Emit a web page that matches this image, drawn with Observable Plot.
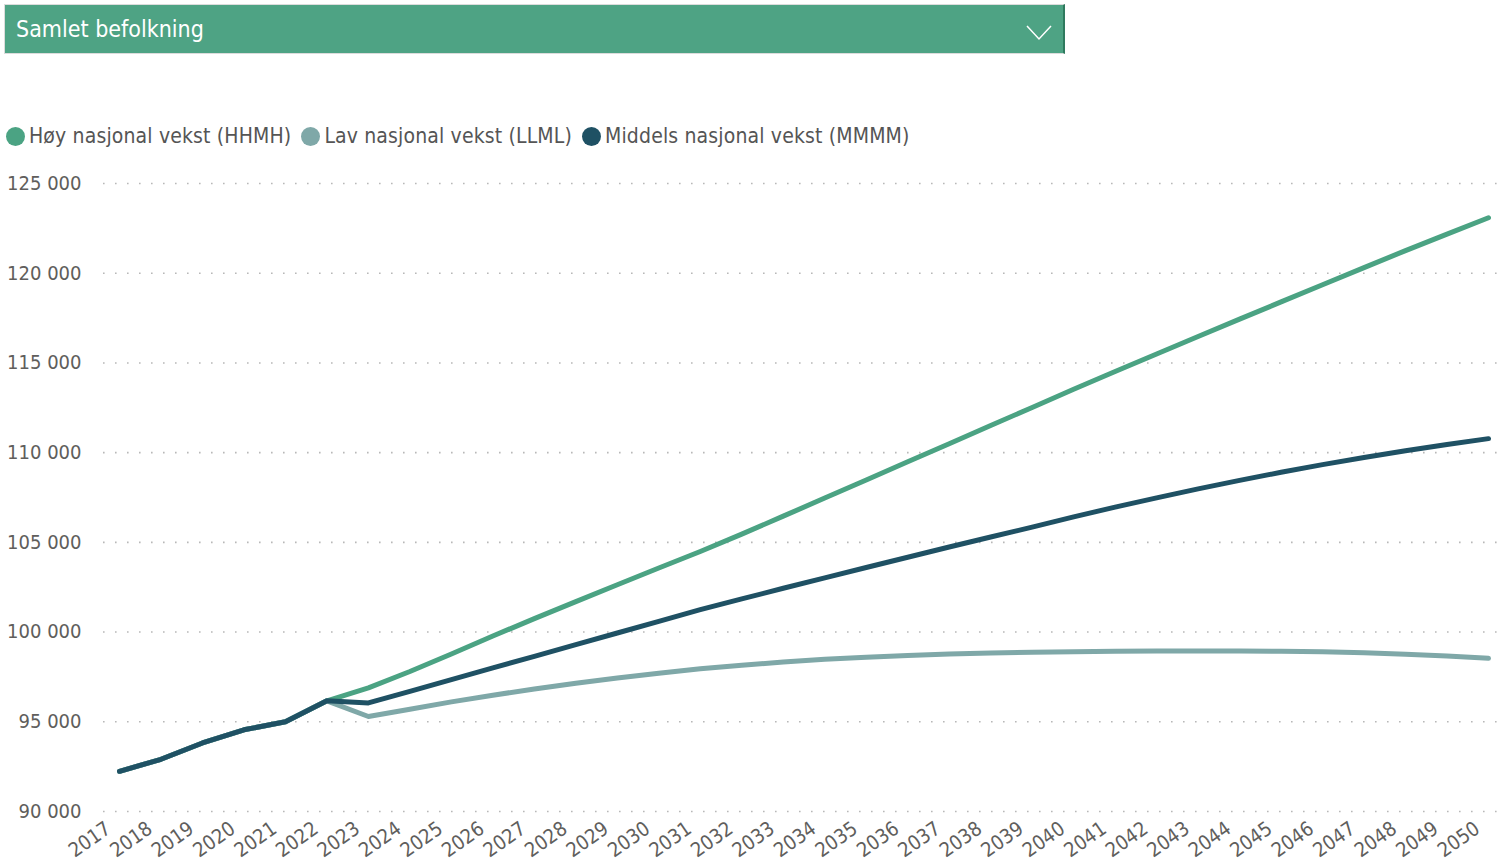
<!DOCTYPE html>
<html>
<head>
<meta charset="utf-8">
<script src="https://cdn.jsdelivr.net/npm/d3@7"></script>
<script src="https://cdn.jsdelivr.net/npm/@observablehq/plot@0.6"></script>
<style>
  html, body { margin: 0; padding: 0; background: #fff; width: 1506px; height: 862px; overflow: hidden; }
  body { font-family: "DejaVu Sans Condensed", "Liberation Sans Narrow", sans-serif; position: relative; }
  #header { position: absolute; left: 4px; top: 4px; width: 1058px; height: 48px; background: #4EA384;
    border: 1px solid #dcdcdc; border-right: 2px solid #2f7a5e; }
  #header .title { position: absolute; left: 11px; top: 11px; color: #fff; font-size: 23px; }
  #header svg { position: absolute; left: 1021px; top: 20px; }
  #legend { position: absolute; left: 6px; top: 124px; display: flex; align-items: center; font-size: 21px; color: #555; white-space: nowrap; letter-spacing: 0.15px; }
  #legend .item { display: flex; align-items: center; margin-right: 10px; }
  #legend .dot { width: 19px; height: 19px; border-radius: 50%; margin-right: 4px; }
  #chart { position: absolute; left: 0; top: 160px; }
</style>
</head>
<body>
<div id="header"><div class="title">Samlet befolkning</div>
<svg width="26" height="16"><polyline points="1,1 13,14 25,1" fill="none" stroke="#fff" stroke-width="1.5"/></svg></div>
<div id="legend"></div>
<div id="chart"></div>
<script>
const years = d3.range(2017, 2051);
const seriesNames = ["Høy nasjonal vekst (HHMH)", "Lav nasjonal vekst (LLML)", "Middels nasjonal vekst (MMMM)"];
const seriesColors = ["#4BA383", "#7FA8A8", "#1F5164"];
const yTicks = [90000, 95000, 100000, 105000, 110000, 115000, 120000, 125000];

// 2017-2022 observed (shared)
const history = [92240, 92910, 93820, 94555, 95000, 96170];
// 2023-2050 projections
const high = [96890, 97800, 98780, 99780, 100750, 101700, 102640, 103570, 104490, 105460, 106460, 107470, 108480, 109490, 110500, 111510, 112520, 113530, 114520, 115500, 116470, 117440, 118400, 119360, 120310, 121260, 122180, 123090];
const low = [95295, 95700, 96110, 96480, 96830, 97150, 97440, 97710, 97950, 98150, 98330, 98480, 98600, 98700, 98780, 98840, 98880, 98910, 98930, 98945, 98950, 98945, 98930, 98900, 98850, 98770, 98670, 98540];
const mid = [96050, 96700, 97350, 98000, 98650, 99300, 99950, 100600, 101250, 101850, 102440, 103020, 103600, 104170, 104740, 105300, 105850, 106420, 106960, 107480, 107980, 108455, 108905, 109330, 109730, 110105, 110455, 110780];

const proj = [high, low, mid];
const data = [];
seriesNames.forEach((name, i) => {
  history.forEach((v, j) => data.push({series: name, year: years[j], value: v}));
  proj[i].forEach((v, j) => data.push({series: name, year: years[history.length + j], value: v}));
});

const legend = document.getElementById("legend");
seriesNames.forEach((n, i) => {
  const it = document.createElement("div");
  it.className = "item";
  it.innerHTML = `<div class="dot" style="background:${seriesColors[i]}"></div><span>${n}</span>`;
  legend.appendChild(it);
});

const fmt = d => d3.format(",")(d).replace(/,/g, " ");
const ff = '"DejaVu Sans Condensed", "Liberation Sans Narrow", sans-serif';

const chart = Plot.plot({
  width: 1506,
  height: 702,
  marginLeft: 103,
  marginRight: 9,
  marginTop: 23,
  marginBottom: 51,
  style: { fontFamily: ff, fontSize: "19px", color: "#605E5C", background: "transparent" },
  x: { type: "linear", domain: [2017, 2050], insetLeft: 16, insetRight: 9, label: null },
  y: { domain: [90000, 125000], label: null },
  marks: [
    Plot.gridY(yTicks, { stroke: "#b8b8b8", strokeOpacity: 1, strokeWidth: 1.6, strokeDasharray: "1.6 10.4" }),
    Plot.axisY(yTicks, { tickSize: 0, tickPadding: 22, tickFormat: fmt, fontSize: 20, fill: "#605E5C", label: null }),
    Plot.axisX(years, { tickSize: 0, tickPadding: 12, tickRotate: -35, tickFormat: d => String(d), fontSize: 20, fill: "#605E5C", label: null, dx: -11, dy: 3 }),
    Plot.line(data.filter(d => d.series === seriesNames[0]), { x: "year", y: "value", stroke: seriesColors[0], strokeWidth: 5, strokeLinecap: "round", strokeLinejoin: "round" }),
    Plot.line(data.filter(d => d.series === seriesNames[1]), { x: "year", y: "value", stroke: seriesColors[1], strokeWidth: 5, strokeLinecap: "round", strokeLinejoin: "round" }),
    Plot.line(data.filter(d => d.series === seriesNames[2]), { x: "year", y: "value", stroke: seriesColors[2], strokeWidth: 5, strokeLinecap: "round", strokeLinejoin: "round" })
  ]
});
document.getElementById("chart").appendChild(chart);
</script>
</body>
</html>
